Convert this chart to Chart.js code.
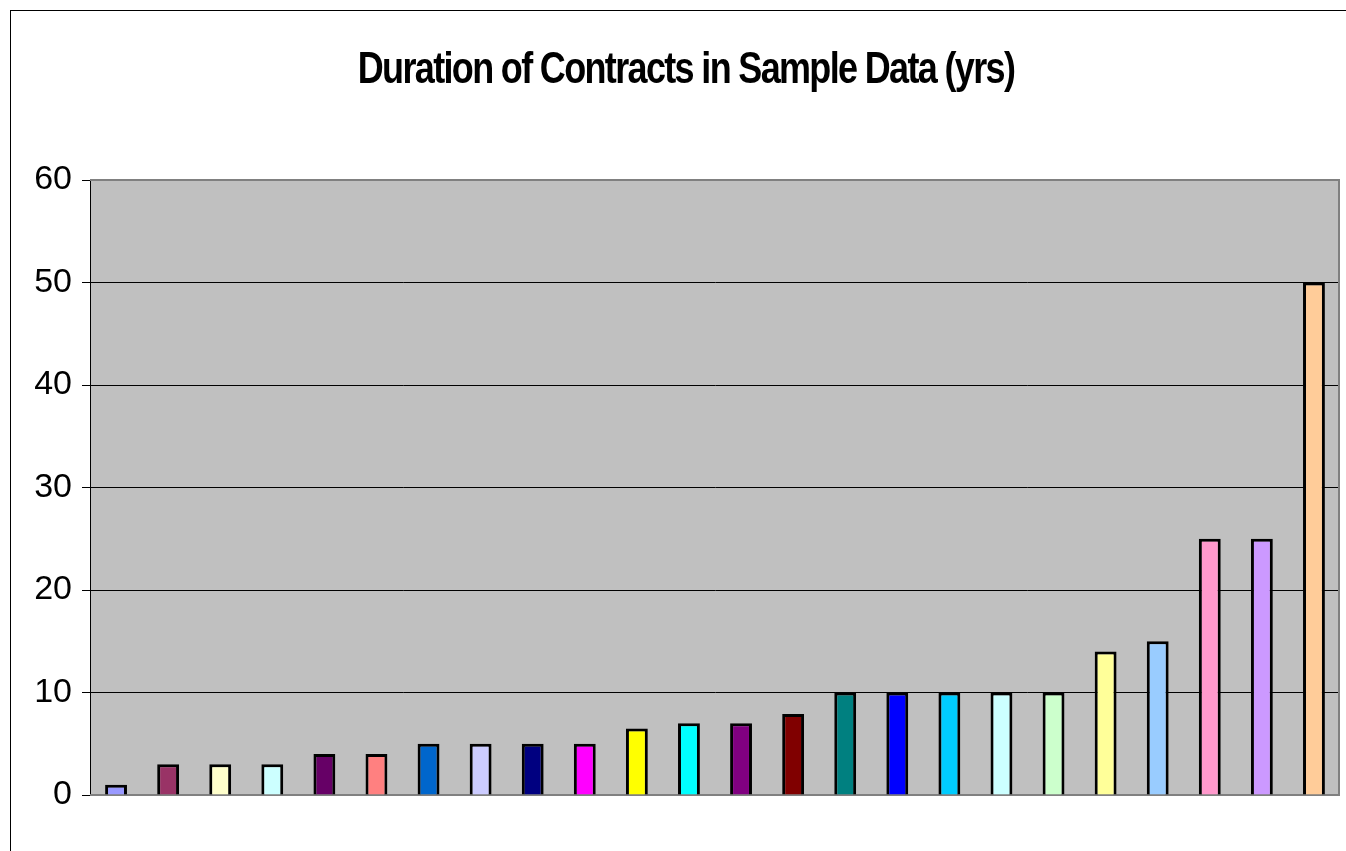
<!DOCTYPE html>
<html>
<head>
<meta charset="utf-8">
<title>Duration of Contracts in Sample Data (yrs)</title>
<script src="https://cdn.jsdelivr.net/npm/chart.js@4/dist/chart.umd.min.js"></script>
<style>
  html, body { margin: 0; padding: 0; background: #ffffff; }
  #wrap { width: 1346px; height: 851px; position: relative; }
</style>
</head>
<body>
<div id="wrap"><canvas id="chart" width="1346" height="851"></canvas></div>
<script>
// Contract durations (years), one bar per contract
const contracts = ['C1','C2','C3','C4','C5','C6','C7','C8','C9','C10','C11','C12',
                   'C13','C14','C15','C16','C17','C18','C19','C20','C21','C22','C23','C24'];
const durations = [1, 3, 3, 3, 4, 4, 5, 5, 5, 5, 6.5, 7, 7, 7.9, 10, 10, 10, 10, 10, 14, 15, 25, 25, 50];
const barColors = ['#9999FF','#993366','#FFFFCC','#CCFFFF','#660066','#FF8080','#0066CC','#CCCCFF',
                   '#000080','#FF00FF','#FFFF00','#00FFFF','#800080','#800000','#008080','#0000FF',
                   '#00CCFF','#CCFFFF','#CCFFCC','#FFFF99','#99CCFF','#FF99CC','#CC99FF','#FFCC99'];
const yTicks = [0, 10, 20, 30, 40, 50, 60];
const chartTitle = 'Duration of Contracts in Sample Data (yrs)';

// Outer frame, grey plot background and the plot-area edges
const framePlugin = {
  id: 'frame',
  beforeDraw(chart) {
    const { ctx, chartArea: a } = chart;
    ctx.save();
    ctx.fillStyle = '#ffffff';
    ctx.fillRect(0, 0, chart.width, chart.height);
    ctx.strokeStyle = '#000000';
    ctx.lineWidth = 1;
    ctx.strokeRect(10.5, 10.5, chart.width + 20, chart.height + 20);
    ctx.fillStyle = '#C0C0C0';
    ctx.fillRect(a.left, a.top, a.right - a.left, a.bottom - a.top);
    ctx.restore();
  },
  beforeDatasetsDraw(chart) {
    const { ctx, chartArea: a } = chart;
    ctx.save();
    ctx.strokeStyle = '#808080';
    ctx.lineWidth = 2;
    ctx.beginPath();
    ctx.moveTo(a.left, a.top);
    ctx.lineTo(a.right - 1, a.top);
    ctx.lineTo(a.right - 1, a.bottom);
    ctx.lineTo(a.left, a.bottom);
    ctx.stroke();
    ctx.restore();
  },
  afterDraw(chart) {
    // condensed bold title
    const { ctx } = chart;
    ctx.save();
    ctx.fillStyle = '#000000';
    ctx.font = 'bold 44px "Liberation Sans", Arial, sans-serif';
    ctx.textAlign = 'center';
    ctx.textBaseline = 'alphabetic';
    if ('letterSpacing' in ctx) ctx.letterSpacing = '-2px';
    ctx.translate(686, 83);
    ctx.scale(0.817, 1);
    ctx.fillText(chartTitle, 0, 0);
    ctx.restore();
  }
};

new Chart(document.getElementById('chart'), {
  type: 'bar',
  data: {
    labels: contracts,
    datasets: [{
      data: durations,
      backgroundColor: barColors,
      borderColor: '#000000',
      borderWidth: 3,
      barPercentage: 0.42,
      categoryPercentage: 1.0
    }]
  },
  options: {
    responsive: false,
    animation: false,
    layout: { padding: { left: 0, top: 180, right: 6, bottom: 56 } },
    plugins: {
      legend: { display: false },
      title: { display: false },
      tooltip: { enabled: false }
    },
    scales: {
      x: {
        grid: { display: false },
        border: { display: false },
        ticks: { display: false },
        afterFit(scale) { scale.height = 0; }
      },
      y: {
        min: 0,
        max: 60,
        afterBuildTicks(scale) { scale.ticks = yTicks.map(v => ({ value: v })); },
        afterFit(scale) { scale.width = 90; },
        ticks: {
          padding: 10,
          color: '#000000',
          font: { family: '"Liberation Sans", Arial, sans-serif', size: 34 }
        },
        grid: {
          color: c => (c.tick && (c.tick.value === 0 || c.tick.value === 60)) ? 'rgba(0,0,0,0)' : '#000000',
          lineWidth: 1,
          tickColor: '#000000',
          tickLength: 8
        },
        border: { display: true, color: '#000000', width: 1 }
      }
    }
  },
  plugins: [framePlugin]
});
</script>
</body>
</html>
